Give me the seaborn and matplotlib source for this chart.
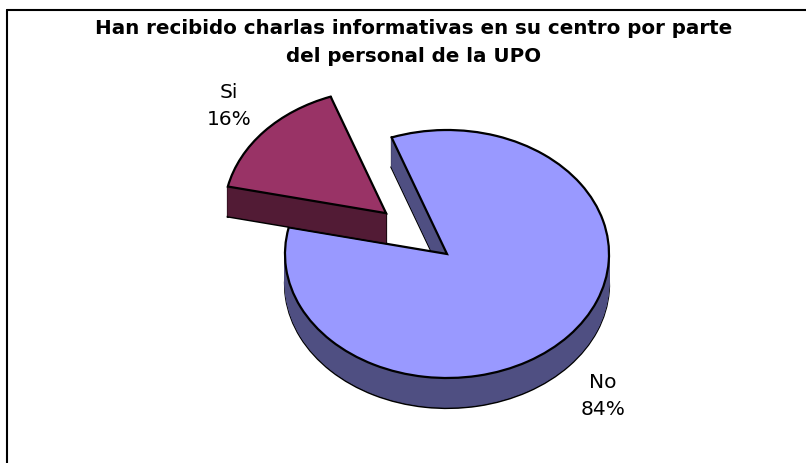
import numpy as np
import seaborn as sns
import matplotlib.pyplot as plt
from matplotlib.lines import Line2D

# datos
categorias = ['Si', 'No']
valores = [16, 84]
porcentajes = ['16%', '84%']
titulo = 'Han recibido charlas informativas en su centro por parte\ndel personal de la UPO'

sns.set_theme(style='white')
plt.rcParams['font.family'] = ['DejaVu Sans']

colores_sup = ['#993366', '#9999FF']
colores_lat = ['#521B35', '#4F4F82']

fig = plt.figure(figsize=(8.06, 4.63), dpi=100)
ax = fig.add_axes([0, 0, 1, 1])

# pixel geometry of the pie (center 447,254 ; rx 162 ; ry 124 ; depth 30)
cx, cy, rx, ry, prof = 447, 254, 162, 124, 30
ax.set_xlim(-cx / rx, (806 - cx) / rx)
ax.set_ylim((cy - 463) / ry, cy / ry)
depth = prof / ry

explode = [0.5, 0.0]
start = 110
lw_borde = 1.6

# draw each slice: side (stacked dark copies), then top face
for i in [1, 0]:
    cols_l = ['none', 'none']
    cols_l[i] = colores_lat[i]
    niveles = np.linspace(-depth, 0, 40)
    for k, d in enumerate(niveles):
        w, _ = ax.pie(valores, colors=cols_l, startangle=start, explode=explode,
                      center=(0, d), radius=1, counterclock=True,
                      wedgeprops=dict(linewidth=lw_borde if k == 0 else 0,
                                      edgecolor='black'))
        for j, wd in enumerate(w):
            if j != i:
                wd.set_visible(False)
            elif k != 0:
                wd.set_edgecolor(colores_lat[i])
                wd.set_linewidth(0.6)
    w, _ = ax.pie(valores, colors=colores_sup, startangle=start, explode=explode,
                  center=(0, 0), radius=1,
                  wedgeprops=dict(linewidth=lw_borde, edgecolor='black'))
    for j, wd in enumerate(w):
        if j != i:
            wd.set_visible(False)
        else:
            # vertical corner edges
            th1, th2 = np.radians(wd.theta1), np.radians(wd.theta2)
            ox, oy = wd.center
            for px, py in [(ox, oy),
                           (ox + np.cos(th1), oy + np.sin(th1)),
                           (ox + np.cos(th2), oy + np.sin(th2))]:
                ax.plot([px, px], [py, py - depth], color='black', lw=lw_borde,
                        zorder=wd.get_zorder() - 0.01)

ax.set_aspect('auto')
ax.set_xlim(-cx / rx, (806 - cx) / rx)
ax.set_ylim((cy - 463) / ry, cy / ry)
ax.axis('off')

# etiquetas
pos_px = [(229, 106), (603, 396)]
for cat, pct, (px, py) in zip(categorias, porcentajes, pos_px):
    ax.text((px - cx) / rx, (cy - py) / ry, f'{cat}\n{pct}', ha='center', va='center',
            fontsize=14.5, linespacing=1.55, color='black')

fig.text(0.513, 1 - 43 / 463, titulo, ha='center', va='center', fontsize=14.3,
         fontweight='bold', linespacing=1.6, color='black')

# borde del área del gráfico
fig.add_artist(Line2D([7 / 806, 1], [1 - 9.5 / 463] * 2, color='black', lw=1.5))
fig.add_artist(Line2D([7 / 806] * 2, [0, 1 - 9.5 / 463], color='black', lw=1.5))

fig.savefig('out.png', dpi=100)
